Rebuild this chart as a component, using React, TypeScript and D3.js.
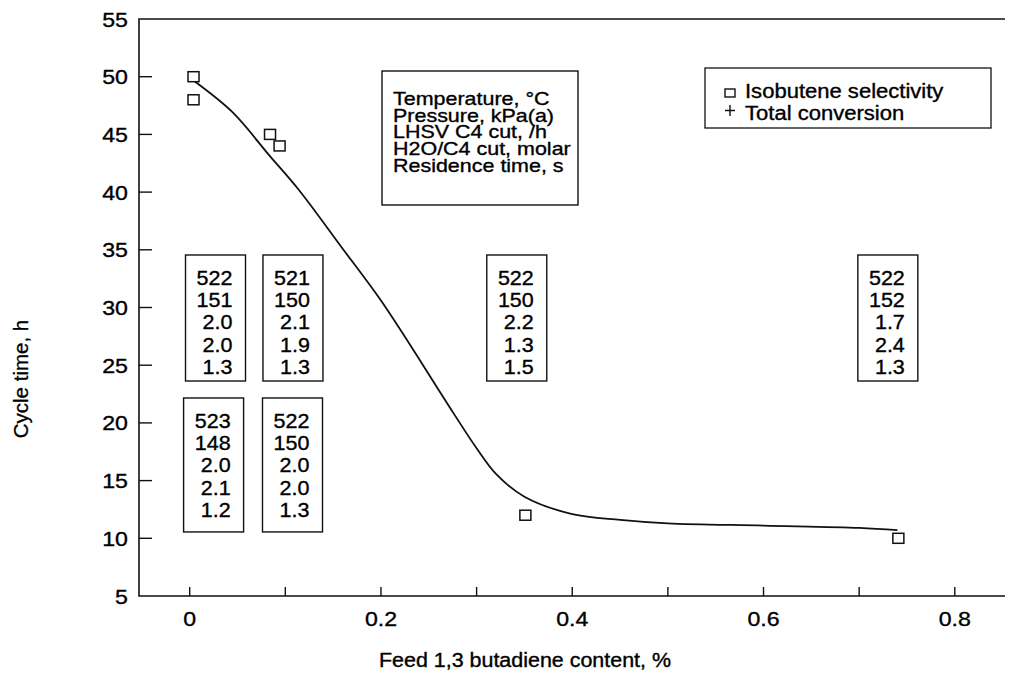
import React, { useEffect, useRef } from 'react';
import * as d3 from 'd3';

// measured points (isobutene selectivity markers)
const selX = [0.004, 0.004, 0.084, 0.094, 0.351, 0.741];
const selY = [50, 48, 45, 44, 12, 10];

// fitted curve
const fitX = [0.005, 0.045, 0.083, 0.114, 0.159, 0.2, 0.244, 0.27, 0.3, 0.32, 0.35, 0.4, 0.45, 0.5, 0.6, 0.7, 0.74];
const fitY = [49.6, 46.9, 43.2, 40.2, 35.2, 30.6, 25, 21.6, 17.8, 15.6, 13.6, 12.1, 11.6, 11.3, 11.1, 10.9, 10.7];

const xTicks = [0, 0.1, 0.2, 0.3, 0.4, 0.5, 0.6, 0.7, 0.8];
const xTickLabels = ['0', '', '0.2', '', '0.4', '', '0.6', '', '0.8'];
const yTicks = [5, 10, 15, 20, 25, 30, 35, 40, 45, 50, 55];

const paramLabels = ['Temperature, °C', 'Pressure, kPa(a)', 'LHSV C4 cut, /h', 'H2O/C4 cut, molar', 'Residence time, s'];
const legendLabels = ['Isobutene selectivity', 'Total conversion'];

// run conditions, one column per box
const runValues = [
  ['522', '151', '2.0', '2.0', '1.3'],
  ['521', '150', '2.1', '1.9', '1.3'],
  ['522', '150', '2.2', '1.3', '1.5'],
  ['522', '152', '1.7', '2.4', '1.3'],
  ['523', '148', '2.0', '2.1', '1.2'],
  ['522', '150', '2.0', '2.0', '1.3'],
];
// where each box sits (x in data units, row 0 = upper, 1 = lower)
const runAnchorX = [0.027, 0.108, 0.342, 0.730, 0.025, 0.1075];
const runRow = [0, 0, 0, 0, 1, 1];

const W = 1009;
const H = 678;
const FONT = '"Liberation Sans", Arial, sans-serif';
const SX = 1.13; // the scan is a bit wider than tall

const App: React.FC = () => {
  const ref = useRef<SVGSVGElement | null>(null);

  useEffect(() => {
    const margin = { top: 19, right: 4, bottom: 82, left: 139 };
    const svg = d3.select(ref.current);
    svg.selectAll('*').remove();
    svg.attr('width', W).attr('height', H);

    svg.append('rect').attr('width', W).attr('height', H).attr('fill', 'white');

    const x = d3.scaleLinear().domain([-0.053, 0.8525]).range([margin.left, W - margin.right]);
    const y = d3.scaleLinear().domain([5, 55]).range([H - margin.bottom, margin.top]);

    const text = (g: d3.Selection<any, any, any, any>, tx: number, ty: number, s: string, size: number, anchor = 'start', sx = SX) =>
      g.append('text')
        .attr('transform', `translate(${tx},${ty}) scale(${sx},1)`)
        .attr('font-family', FONT)
        .attr('font-size', size)
        .attr('text-anchor', anchor)
        .attr('fill', '#000')
        .attr('stroke', '#000')
        .attr('stroke-width', 0.35)
        .text(s);

    const x0 = x.range()[0], x1 = x.range()[1];
    const y0 = y.range()[0], y1 = y.range()[1];

    // frame: left, bottom, top
    svg.append('path')
      .attr('d', `M${x1},${y1}H${x0}V${y0}H${x1}`)
      .attr('fill', 'none').attr('stroke', '#111').attr('stroke-width', 1.6);

    // y ticks (inward)
    yTicks.forEach(t => {
      if (t !== 5 && t !== 55) {
        svg.append('line').attr('x1', x0).attr('x2', x0 + 13)
          .attr('y1', y(t)).attr('y2', y(t)).attr('stroke', '#111').attr('stroke-width', 1.4);
      }
      text(svg, x0 - 11, y(t) + 7.5, String(t), 20.5, 'end');
    });

    // x ticks (inward)
    xTicks.forEach((t, i) => {
      svg.append('line').attr('x1', x(t)).attr('x2', x(t))
        .attr('y1', y0).attr('y2', y0 - 9).attr('stroke', '#111').attr('stroke-width', 1.4);
      if (xTickLabels[i]) text(svg, x(t), y0 + 30, xTickLabels[i], 20.5, 'middle');
    });

    // axis titles
    text(svg, 525, 667, 'Feed 1,3 butadiene content, %', 19.5, 'middle', 1.1);
    svg.append('text')
      .attr('transform', `translate(28,379) rotate(-90)`)
      .attr('font-family', FONT).attr('font-size', 20.5)
      .attr('text-anchor', 'middle').attr('fill', '#000')
      .attr('stroke', '#000').attr('stroke-width', 0.3)
      .text('Cycle time, h');

    // fitted curve
    const line = d3.line<number>()
      .x((_, i) => x(fitX[i]))
      .y(d => y(d))
      .curve(d3.curveCatmullRom.alpha(0.5));
    svg.append('path').datum(fitY)
      .attr('d', line)
      .attr('fill', 'none').attr('stroke', '#111').attr('stroke-width', 1.8);

    // markers
    svg.selectAll('.sel')
      .data(selY)
      .enter().append('rect')
      .attr('class', 'sel')
      .attr('x', (_, i) => x(selX[i]) - 5.5)
      .attr('y', d => y(d) - 5)
      .attr('width', 11).attr('height', 10)
      .attr('fill', 'white').attr('stroke', '#111').attr('stroke-width', 1.5);

    // parameter label box
    const pg = svg.append('g');
    pg.append('rect').attr('x', 382).attr('y', 71).attr('width', 196).attr('height', 134)
      .attr('fill', 'white').attr('stroke', '#111').attr('stroke-width', 1.4);
    paramLabels.forEach((s, i) => text(pg, 393, 105 + i * 16.7, s, 19));

    // legend
    const lg = svg.append('g');
    lg.append('rect').attr('x', 705).attr('y', 68).attr('width', 286).attr('height', 60)
      .attr('fill', 'white').attr('stroke', '#111').attr('stroke-width', 1.3);
    lg.append('rect').attr('x', 725).attr('y', 89).attr('width', 10).attr('height', 8)
      .attr('fill', 'white').attr('stroke', '#111').attr('stroke-width', 1.4);
    lg.append('path').attr('d', 'M725,110.5H735M730,105V116').attr('stroke', '#111').attr('stroke-width', 1.4);
    legendLabels.forEach((s, i) => text(lg, 745, 98 + i * 22, s, 19.5));

    // run condition boxes
    const rowTop = [34.55, 22.16];
    const rowBottom = [23.63, 10.55];
    runValues.forEach((vals, k) => {
      const cx = x(runAnchorX[k]);
      const top = y(rowTop[runRow[k]]);
      const bottom = y(rowBottom[runRow[k]]);
      const g = svg.append('g');
      g.append('rect').attr('x', cx - 30).attr('y', top).attr('width', 60).attr('height', bottom - top)
        .attr('fill', 'white').attr('stroke', '#111').attr('stroke-width', 1.4);
      vals.forEach((v, j) => text(g, cx + 17, top + 30 + j * 22.2, v, 20.5, 'end', 1.05));
    });
  }, []);

  return <svg ref={ref} style={{ position: 'absolute', left: 0, top: 0 }}></svg>;
};

export default App;
